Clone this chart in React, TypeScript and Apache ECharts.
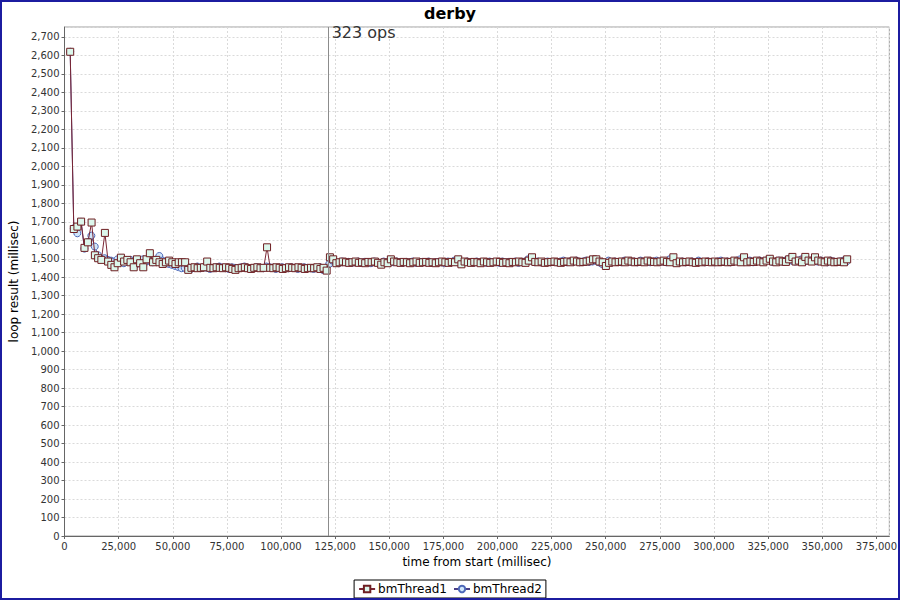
import React, { useEffect, useRef } from "react";
import * as echarts from "echarts";

const TITLE = "derby";
const SERIES_NAMES = ["bmThread1", "bmThread2"];
const X_NAME = "time from start (millisec)";
const Y_NAME = "loop result (millisec)";
const MARKER_TIME = 122000;
const MARKER_LABEL = "323 ops";

// loop durations (millisec) for each thread, in order; x = time from start at end of each loop
const thread1Loop = [
  2620, 1661, 1674, 1701, 1559, 1589, 1696, 1519, 1503, 1494,
  1640, 1485, 1467, 1454, 1476, 1506, 1485, 1494, 1481, 1454,
  1497, 1476, 1454, 1497, 1530, 1481, 1494, 1481, 1472, 1481,
  1490, 1481, 1472, 1481, 1481,
  1481, 1440, 1451, 1454, 1449, 1451, 1454, 1485, 1451, 1449,
  1454, 1451, 1449, 1454, 1451, 1445, 1440, 1449, 1451, 1454,
  1449, 1445, 1451, 1454, 1449, 1451, 1562, 1451, 1449, 1454,
  1451, 1445, 1449, 1454, 1451, 1449, 1454, 1451, 1445, 1449,
  1451, 1449, 1454, 1445, 1451, 1436,
  1508, 1497, 1476, 1481, 1485, 1481, 1478, 1481, 1485, 1478,
  1481, 1476, 1483, 1481, 1485, 1478, 1468, 1481, 1476, 1497,
  1485, 1481, 1478, 1483, 1481, 1476, 1481, 1485, 1478, 1481,
  1483, 1478, 1481, 1476, 1481, 1485, 1481, 1478, 1483, 1481,
  1497, 1470, 1485, 1481, 1478, 1483, 1481, 1476, 1485, 1481,
  1478, 1481, 1485, 1483, 1478, 1481, 1476, 1483, 1481, 1485,
  1481, 1478, 1490, 1508, 1483, 1481, 1485, 1478, 1481, 1483,
  1485, 1481, 1478, 1483, 1485, 1481, 1490, 1485, 1481, 1483,
  1485, 1490, 1497, 1497, 1485, 1481, 1461, 1478, 1485, 1481,
  1483, 1485, 1481, 1490, 1485, 1481, 1483, 1485, 1481, 1490,
  1485, 1483, 1481, 1485, 1490, 1483, 1481, 1508, 1476, 1485,
  1481, 1483, 1485, 1481, 1478, 1483, 1481, 1485, 1483, 1481,
  1485, 1481, 1483, 1485, 1481, 1483, 1490, 1485, 1481, 1508,
  1481, 1485, 1483, 1490, 1485, 1481, 1490, 1500, 1485, 1481,
  1490, 1485, 1483, 1497, 1510, 1485, 1490, 1481, 1510, 1490,
  1485, 1508, 1490, 1485, 1481, 1490, 1485, 1481, 1483, 1485,
  1481, 1497,
];

const thread2Loop = [
  2620, 1665, 1638, 1700, 1555, 1590, 1625, 1566, 1519, 1500,
  1503, 1494, 1490, 1485, 1497, 1481, 1476, 1490, 1494, 1485,
  1472, 1481, 1497, 1485, 1490, 1481, 1494, 1515, 1490, 1481,
  1472, 1467, 1461,
  1455, 1449, 1451, 1454, 1445, 1451, 1458, 1449, 1454, 1451,
  1445, 1449, 1454, 1458, 1451, 1449, 1445, 1454, 1451, 1449,
  1454, 1458, 1451, 1445, 1449, 1454, 1451, 1449, 1458, 1454,
  1451, 1445, 1449, 1454, 1451, 1449, 1454, 1451, 1445, 1449,
  1454, 1451, 1449, 1445, 1451, 1454, 1440, 1445,
  1472, 1490, 1481, 1476, 1485, 1481, 1483, 1478, 1481, 1485,
  1478, 1483, 1481, 1476, 1485, 1481, 1472, 1485, 1481, 1490,
  1481, 1485, 1481, 1478, 1483, 1481, 1485, 1478, 1481, 1483,
  1481, 1485, 1478, 1481, 1483, 1481, 1476, 1485, 1481, 1490,
  1481, 1476, 1483, 1485, 1481, 1478, 1485, 1481, 1483, 1478,
  1485, 1481, 1483, 1478, 1485, 1481, 1483, 1481, 1485, 1478,
  1483, 1485, 1497, 1490, 1481, 1485, 1481, 1483, 1485, 1481,
  1483, 1481, 1485, 1490, 1481, 1485, 1483, 1490, 1481, 1485,
  1490, 1483, 1485, 1490, 1481, 1472, 1476, 1490, 1481, 1485,
  1483, 1481, 1490, 1485, 1483, 1485, 1481, 1490, 1483, 1485,
  1481, 1485, 1490, 1483, 1485, 1481, 1497, 1490, 1481, 1483,
  1485, 1481, 1483, 1485, 1481, 1490, 1483, 1481, 1485, 1483,
  1481, 1485, 1490, 1483, 1485, 1481, 1485, 1490, 1497, 1485,
  1483, 1490, 1481, 1485, 1490, 1485, 1490, 1497, 1483, 1485,
  1490, 1485, 1490, 1497, 1490, 1485, 1490, 1497, 1485, 1490,
  1490, 1497, 1485, 1490, 1485, 1481, 1490, 1485, 1483, 1485,
  1490, 1485,
];

const X_MIN = 0;
const X_MAX = 381000;
const X_STEP = 25000;
const Y_MIN = 0;
const Y_MAX = 2754;
const Y_STEP = 100;

function toPoints(loop: number[]): number[][] {
  let t = 0;
  return loop.map((v) => {
    t += v;
    return [t, v];
  });
}

const fmt = (v: number) => Math.round(v).toLocaleString("en-US");
const FONT = "DejaVu Sans";

export default function App() {
  const ref = useRef<HTMLDivElement>(null);

  useEffect(() => {
    if (!ref.current) return;
    const chart = echarts.init(ref.current, undefined, { renderer: "svg" });

    const axisCommon = {
      type: "value" as const,
      nameLocation: "middle" as const,
      nameTextStyle: { fontSize: 12, color: "#000", fontFamily: FONT },
      axisLine: { show: true, onZero: false, lineStyle: { color: "#666", width: 1 } },
      axisTick: { show: true, length: 3, lineStyle: { color: "#666" } },
      splitLine: { show: true, lineStyle: { color: "#dadada", type: [2, 2] as any, width: 1 } },
    };

    chart.setOption({
      animation: false,
      backgroundColor: "#ffffff",
      textStyle: { fontFamily: FONT },
      title: {
        text: TITLE,
        left: "center",
        top: 0,
        textStyle: { fontSize: 16, fontWeight: "bold", color: "#000", fontFamily: FONT },
      },
      grid: {
        left: 63,
        right: 9,
        top: 27,
        bottom: 64,
        show: true,
        borderColor: "#a0a0a0",
        borderWidth: 1,
        backgroundColor: "#ffffff",
      },
      legend: {
        bottom: 2,
        left: "center",
        data: SERIES_NAMES,
        borderColor: "#000",
        borderWidth: 1,
        borderRadius: 0,
        padding: [3, 4],
        itemGap: 6,
        itemWidth: 16,
        itemHeight: 8,
        textStyle: { fontSize: 12, color: "#000", fontFamily: FONT, padding: [0, 0, 0, -2] },
      },
      xAxis: {
        ...axisCommon,
        min: X_MIN,
        max: X_MAX,
        interval: X_STEP,
        name: X_NAME,
        nameGap: 20,
        axisLabel: { showMaxLabel: false, fontSize: 10, color: "#333", margin: 5, formatter: fmt, fontFamily: FONT },
      },
      yAxis: {
        ...axisCommon,
        min: Y_MIN,
        max: Y_MAX,
        interval: Y_STEP,
        name: Y_NAME,
        nameGap: 37,
        axisLabel: { showMaxLabel: false, fontSize: 10, color: "#333", margin: 5, formatter: fmt, fontFamily: FONT },
      },
      series: [
        {
          name: SERIES_NAMES[0],
          type: "line",
          data: toPoints(thread1Loop),
          symbol: "rect",
          symbolSize: 7,
          showSymbol: true,
          showAllSymbol: true,
          z: 3,
          lineStyle: { color: "#7a2634", width: 1 },
          itemStyle: { color: "#dcf7ec", borderColor: "#6e1e22", borderWidth: 1 },
          emphasis: { disabled: true },
          markLine: {
            silent: true,
            symbol: "none",
            label: { show: false },
            lineStyle: { color: "#8c8c8c", width: 1, type: "solid" },
            data: [{ xAxis: MARKER_TIME }],
          },
        },
        {
          name: SERIES_NAMES[1],
          type: "line",
          data: toPoints(thread2Loop),
          symbol: "circle",
          symbolSize: 7,
          showSymbol: true,
          showAllSymbol: true,
          z: 2,
          lineStyle: { color: "#4a3f86", width: 1 },
          itemStyle: { color: "#cfe6fa", borderColor: "#4d68b8", borderWidth: 1 },
          emphasis: { disabled: true },
        },
      ],
    });

    const mx = chart.convertToPixel({ xAxisIndex: 0 }, MARKER_TIME) as number;
    const topY = chart.convertToPixel({ yAxisIndex: 0 }, Y_MAX) as number;
    chart.setOption({
      graphic: [
        {
          type: "text",
          left: mx + 3,
          top: topY - 3,
          silent: true,
          style: { text: MARKER_LABEL, fill: "#333", fontSize: 16, fontFamily: FONT },
        },
        {
          type: "rect",
          silent: true,
          shape: { x: 1, y: 1, width: 898, height: 598 },
          style: { fill: "none", stroke: "#1c1ca0", lineWidth: 2 },
          z: 100,
        },
      ],
    });

    return () => chart.dispose();
  }, []);

  return (
    <div
      ref={ref}
      style={{ position: "absolute", left: 0, top: 0, width: 900, height: 600 }}
    />
  );
}
